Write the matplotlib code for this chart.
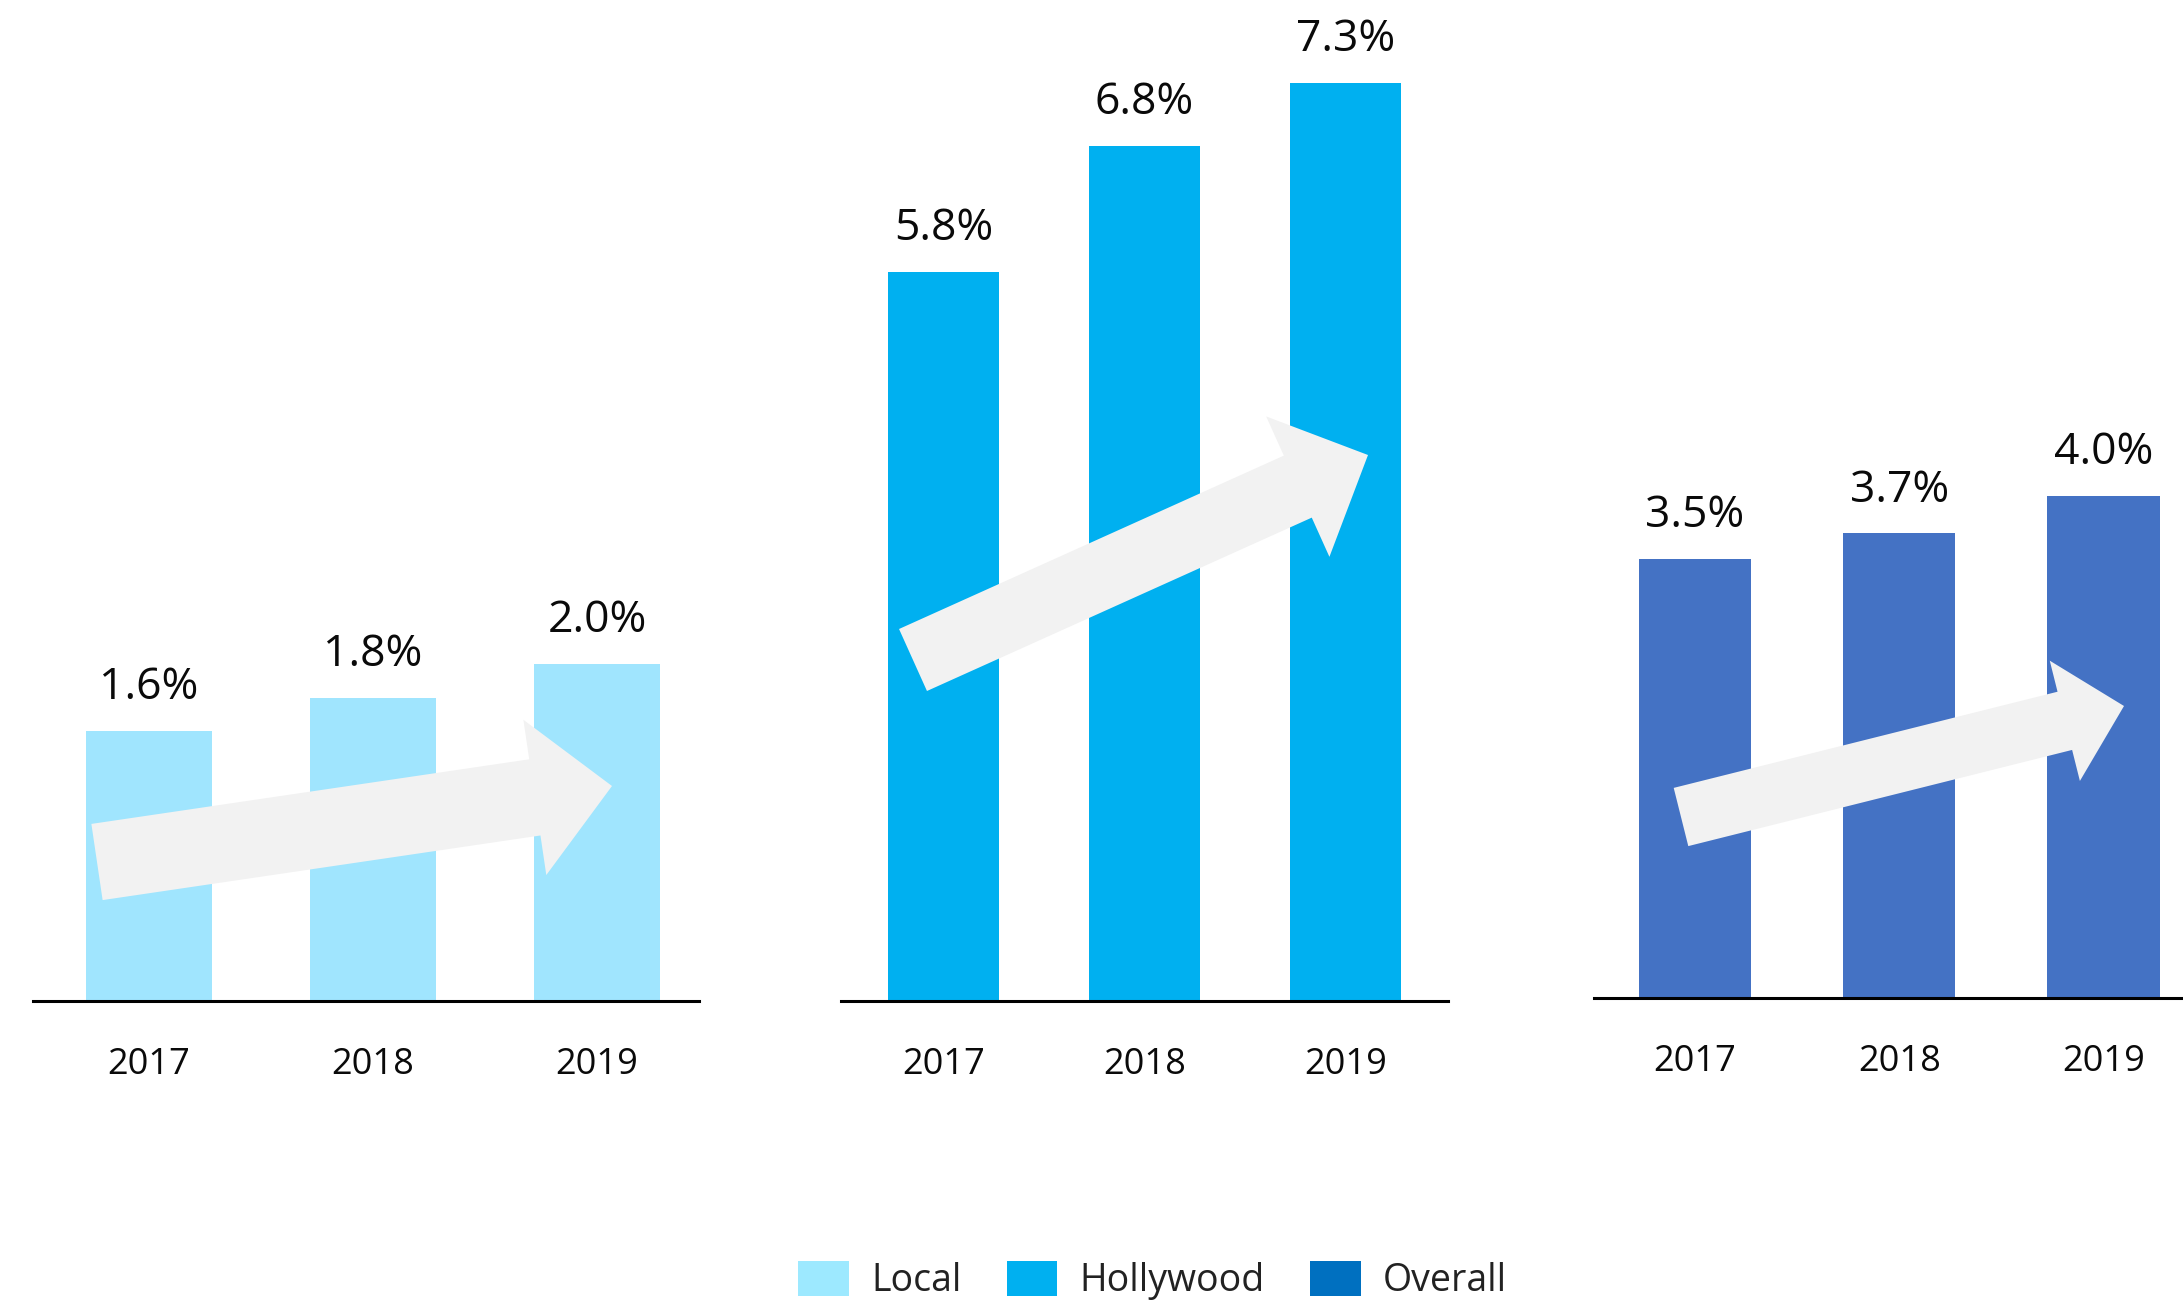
import matplotlib
matplotlib.use("Agg")
import matplotlib.pyplot as plt
from matplotlib.patches import Patch, FancyArrow

plt.rcParams['font.family'] = ['Open Sans', 'DejaVu Sans']

# data
years = ['2017', '2018', '2019']
local = [1.6, 1.8, 2.0]
hollywood = [5.8, 6.8, 7.3]
overall = [3.5, 3.7, 4.0]

series_names = ['Local', 'Hollywood', 'Overall']
bar_colors = ['#A0E5FE', '#00B0F0', '#4472C4']
legend_colors = ['#9DE9FF', '#00B0F0', '#0070C0']

W, H = 2183, 1304
fig = plt.figure(figsize=(W / 100, H / 100), dpi=100)

# panel layout: [left, bottom, width, height], xlim, ylim top, bar width
panels = [
    (local, [0.0151, 0.2324, 0.3051, 0.7676], (-0.518, 2.455), 5.94, 0.56),
    (hollywood, [0.3853, 0.2324, 0.2780, 0.7676], (-0.51, 2.51), 7.96, 0.55),
    (overall, [0.7302, 0.2347, 0.2698, 0.7653], (-0.495, 2.39), 7.95, 0.55),
]

for i, (vals, rect, xl, ytop, bw) in enumerate(panels):
    ax = fig.add_axes(rect)
    x = range(len(years))
    ax.bar(x, vals, width=bw, color=bar_colors[i], zorder=1)
    for xi, v in zip(x, vals):
        ax.annotate(f'{v:.1f}%', (xi, v), xytext=(0, 23), textcoords='offset points',
                    ha='center', va='baseline', fontsize=32, color='#0a0a0a')
    ax.set_xlim(*xl)
    ax.set_ylim(0, ytop)
    ax.set_xticks(list(x))
    ax.set_xticklabels(years, fontsize=26, color='#0a0a0a')
    ax.tick_params(axis='x', length=0, pad=33)
    ax.set_yticks([])
    for s in ['top', 'left', 'right']:
        ax.spines[s].set_visible(False)
    ax.spines['bottom'].set_linewidth(2.2)
    ax.spines['bottom'].set_color('black')
    ax.patch.set_alpha(0)

# decorative trend arrows (pixel positions: tail, tip, shaft, head width, head length)
arrows = [
    ((97, 862), (612, 786), 77, 157, 78),
    ((913, 660), (1368, 455), 68, 154, 77),
    ((1681, 817), (2124, 706), 60, 124, 61),
]
for (x0, y0), (x1, y1), sw, hw, hl in arrows:
    a = FancyArrow(x0 / 100, (H - y0) / 100, (x1 - x0) / 100, (y0 - y1) / 100,
                   width=sw / 100, head_width=hw / 100, head_length=hl / 100,
                   length_includes_head=True, color='#F2F2F2', lw=0,
                   transform=fig.dpi_scale_trans, zorder=5)
    fig.add_artist(a)

handles = [Patch(facecolor=c, edgecolor='none', label=n) for c, n in zip(legend_colors, series_names)]
fig.legend(handles=handles, loc='center', bbox_to_anchor=(0.528, 0.018), ncol=3,
           frameon=False, fontsize=27, handlelength=1.35, handleheight=1.05,
           handletextpad=0.6, columnspacing=1.2, labelcolor='#222222')

fig.savefig('out.png', dpi=100)
